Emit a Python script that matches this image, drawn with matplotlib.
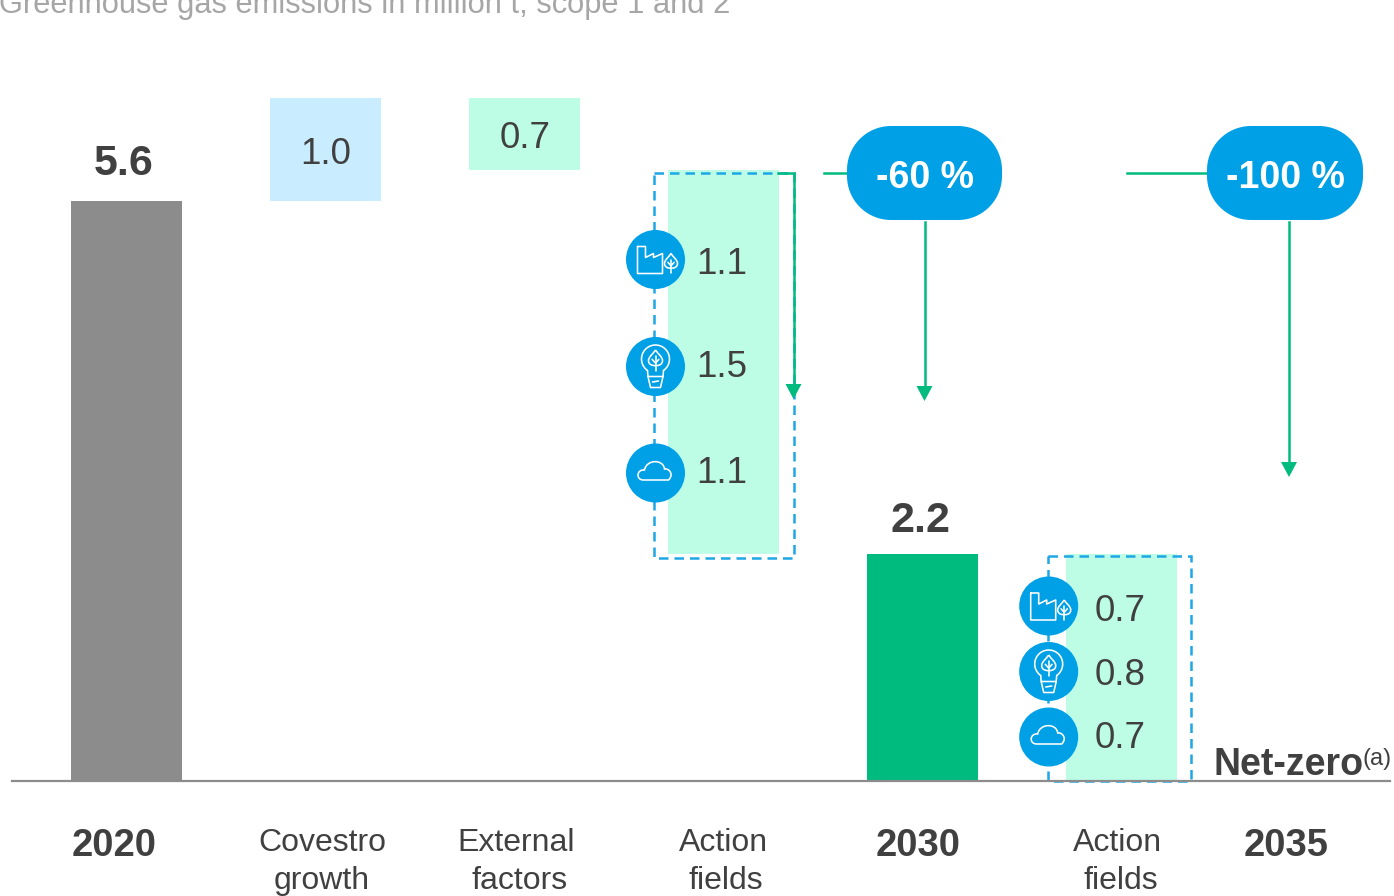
import matplotlib
matplotlib.use("Agg")
from matplotlib import pyplot as plt
from matplotlib.patches import Circle, Polygon, Rectangle
from matplotlib.path import Path
from matplotlib.patches import PathPatch
import numpy as np

plt.rcParams['font.family'] = ['Liberation Sans', 'DejaVu Sans']

# emissions in million t
start_2020 = 5.6
growth = 1.0
external = 0.7
actions_2030 = [1.1, 1.5, 1.1]
level_2030 = 2.2
actions_2035 = [0.7, 0.8, 0.7]

action_icons = ['factory', 'bulb', 'cloud']
subtitle = 'Greenhouse gas emissions in million t, scope 1 and 2'
reduction_labels = ['-60 %', '-100 %']

GREY = '#8c8c8c'
LIGHT_BLUE = '#c9edff'
MINT = '#bdfde6'
GREEN = '#00bb7e'
BLUE = '#00a0e6'
DASH = '#1ea7e6'
TEXT = '#404040'
ICON_LW = 1.15


def icon_line(ax, pts, closed=False):
    pts = list(pts)
    if closed:
        pts.append(pts[0])
    xs, ys = zip(*pts)
    ax.plot(xs, ys, color='white', lw=ICON_LW, solid_joinstyle='round', solid_capstyle='round', zorder=6)


def leaf(ax, cx, cy, w, h):
    # pointed leaf with a small stem and two veins
    verts = [(cx, cy-h*0.5), (cx+w*0.15, cy-h*0.3), (cx+w*0.5, cy-h*0.1), (cx+w*0.5, cy+h*0.12),
             (cx+w*0.5, cy+h*0.38), (cx+w*0.2, cy+h*0.42), (cx, cy+h*0.42),
             (cx-w*0.2, cy+h*0.42), (cx-w*0.5, cy+h*0.38), (cx-w*0.5, cy+h*0.12),
             (cx-w*0.5, cy-h*0.1), (cx-w*0.15, cy-h*0.3), (cx, cy-h*0.5)]
    codes = [Path.MOVETO] + [Path.CURVE4]*12
    ax.add_patch(PathPatch(Path(verts, codes), fc='none', ec='white', lw=ICON_LW, zorder=6))
    icon_line(ax, [(cx, cy-h*0.12), (cx, cy+h*0.72)])
    icon_line(ax, [(cx-w*0.24, cy+h*0.05), (cx, cy+h*0.27), (cx+w*0.24, cy+h*0.05)])


def draw_icon(ax, name, cx, cy):
    ax.add_patch(Circle((cx, cy), 29.5, fc=BLUE, ec='none', zorder=5))
    if name == 'factory':
        icon_line(ax, [(cx-18, cy-13), (cx-10, cy-13), (cx-10, cy-2), (cx-2, cy-6), (cx-2, cy-2),
                       (cx+7, cy-6), (cx+7, cy+14), (cx-18, cy+14)], closed=True)
        leaf(ax, cx+15.5, cy+2, 13, 16)
    elif name == 'bulb':
        t = np.linspace(np.radians(-55), np.radians(235), 40)
        icon_line(ax, [(cx+14*np.cos(a), cy-7.5-14*np.sin(a)) for a in t])
        icon_line(ax, [(cx-8, cy+4), (cx-7.5, cy+10), (cx+7.5, cy+10), (cx+8, cy+4)])
        icon_line(ax, [(cx-7.5, cy+10), (cx-5, cy+21), (cx+5, cy+21), (cx+7.5, cy+10)])
        icon_line(ax, [(cx-3, cy+15.5), (cx+3, cy+14.5)])
        leaf(ax, cx, cy-8, 14, 17)
    else:
        verts = [(cx-12, cy+7), (cx-20, cy+7), (cx-19, cy-4), (cx-11, cy-3),
                 (cx-9, cy-14), (cx+8, cy-14), (cx+9, cy-4),
                 (cx+13, cy-5), (cx+19, cy+1), (cx+13, cy+7), (cx-12, cy+7)]
        codes = [Path.MOVETO, Path.CURVE4, Path.CURVE4, Path.CURVE4,
                 Path.CURVE4, Path.CURVE4, Path.CURVE4,
                 Path.CURVE4, Path.CURVE4, Path.CURVE4, Path.LINETO]
        ax.add_patch(PathPatch(Path(verts, codes), fc='none', ec='white', lw=ICON_LW, zorder=6))


def arrow(ax, pts):
    xs, ys = zip(*pts)
    ax.plot(xs, ys, color=GREEN, lw=1.8, solid_joinstyle='miter', zorder=4)
    x, y = pts[-1]
    ax.add_patch(Polygon([(x-8, y-2), (x+8, y-2), (x, y+13)], fc=GREEN, ec='none', zorder=4))


def pill(ax, x0, x1, y0, y1, label):
    # rounded corners as true arcs, the boxstyle ones come out too square
    r = 44
    outline = []
    corners = [(x1-r, y0+r, 90, 0), (x1-r, y1-r, 0, -90), (x0+r, y1-r, -90, -180), (x0+r, y0+r, 180, 90)]
    for cx, cy, a0, a1 in corners:
        for a in np.radians(np.linspace(a0, a1, 24)):
            outline.append((cx+r*np.cos(a), cy-r*np.sin(a)))
    ax.add_patch(Polygon(outline, fc=BLUE, ec='none', zorder=5))
    ax.text((x0+x1)/2, 188, label, color='white', fontsize=27, fontweight='bold', ha='center',
            va='baseline', zorder=6)


def dashed_box(ax, x0, x1, y0, y1):
    ax.add_patch(Rectangle((x0, y0), x1-x0, y1-y0, fc='none', ec=DASH, lw=1.8,
                           ls=(0, (3.8, 2.4)), zorder=3))


def main():
    fig = plt.figure(figsize=(13.94, 8.96), dpi=100)

    # value axes, 103.6 px per million t above the baseline at y=781 px
    ax = fig.add_axes([0, 0, 1, 1])
    ax.set_xlim(-126.5/199, (1394-126.5)/199)
    ax.set_ylim(-(896-781.5)/103.6, 781.5/103.6)
    ax.axis('off')
    width = 0.558

    ax.bar(0, start_2020, width, color=GREY)
    ax.bar(1, growth, width, bottom=start_2020, color=LIGHT_BLUE)
    ax.bar(2, external, width, bottom=start_2020+growth-external, color=MINT)
    bottom = start_2020+growth-external
    for v in actions_2030:
        bottom -= v
        ax.bar(3, v, width, bottom=bottom, color=MINT, lw=0)
    ax.bar(4, level_2030, width, color=GREEN)
    bottom = level_2030
    for v in actions_2035:
        bottom -= v
        ax.bar(5, v, width, bottom=bottom, color=MINT, lw=0)

    # annotations are placed in pixels
    px = fig.add_axes([0, 0, 1, 1], facecolor='none')
    px.set_xlim(0, 1394)
    px.set_ylim(896, 0)
    px.axis('off')

    px.text(-1, 12.5, subtitle, color='#a6a6a6', fontsize=22.2, va='baseline', ha='left')
    px.plot([12, 1390], [781.5, 781.5], color=GREY, lw=1.6, zorder=7)

    dashed_box(px, 653.5, 793.5, 173, 558)
    dashed_box(px, 1047.5, 1190.5, 556, 781)

    arrow(px, [(778, 173), (793.5, 173), (793.5, 386)])
    px.plot([824, 846], [173, 173], color=GREEN, lw=1.8)
    arrow(px, [(924.5, 222), (924.5, 388)])
    px.plot([1127, 1206], [173, 173], color=GREEN, lw=1.8)
    arrow(px, [(1289, 222), (1289, 464)])

    pill(px, 847, 1002, 126, 220, reduction_labels[0])
    pill(px, 1207, 1363, 126, 220, reduction_labels[1])

    for name, y in zip(action_icons, [259.5, 366.5, 473]):
        draw_icon(px, name, 655.5, y)
    for name, y in zip(action_icons, [606, 671.5, 737]):
        draw_icon(px, name, 1048.7, y)

    px.text(124, 175, f'{start_2020:.1f}', color=TEXT, fontsize=31, fontweight='bold', ha='center', va='baseline')
    px.text(920, 532, f'{level_2030:.1f}', color=TEXT, fontsize=31, fontweight='bold', ha='center', va='baseline')
    px.text(326, 164, f'{growth:.1f}', color=TEXT, fontsize=26.5, ha='center', va='baseline')
    px.text(525, 148, f'{external:.1f}', color=TEXT, fontsize=26.5, ha='center', va='baseline')
    for v, y in zip(actions_2030, [274, 377, 483]):
        px.text(721.5, y, f'{v:.1f}', color=TEXT, fontsize=26.5, ha='center', va='baseline', zorder=6)
    for v, y in zip(actions_2035, [621, 685, 748]):
        px.text(1120, y, f'{v:.1f}', color=TEXT, fontsize=26.5, ha='center', va='baseline', zorder=6)

    px.text(1213, 775, 'Net-zero', color=TEXT, fontsize=27, fontweight='bold', ha='left', va='baseline')
    px.text(1363, 765, '(a)', color=TEXT, fontsize=17, ha='left', va='baseline')

    for label, x in [('2020', 114), ('2030', 918), ('2035', 1286)]:
        px.text(x, 856, label, color=TEXT, fontsize=27.5, fontweight='bold', ha='center', va='baseline')
    for label, x, y in [('Covestro', 322, 851), ('growth', 322, 889), ('External', 516, 851), ('factors', 520, 889),
                        ('Action', 723.5, 851), ('fields', 726, 889), ('Action', 1117.5, 851), ('fields', 1121, 889)]:
        px.text(x, y, label, color=TEXT, fontsize=23, ha='center', va='baseline')

    fig.savefig('out.png', dpi=100)


if __name__ == "__main__":
    main()
